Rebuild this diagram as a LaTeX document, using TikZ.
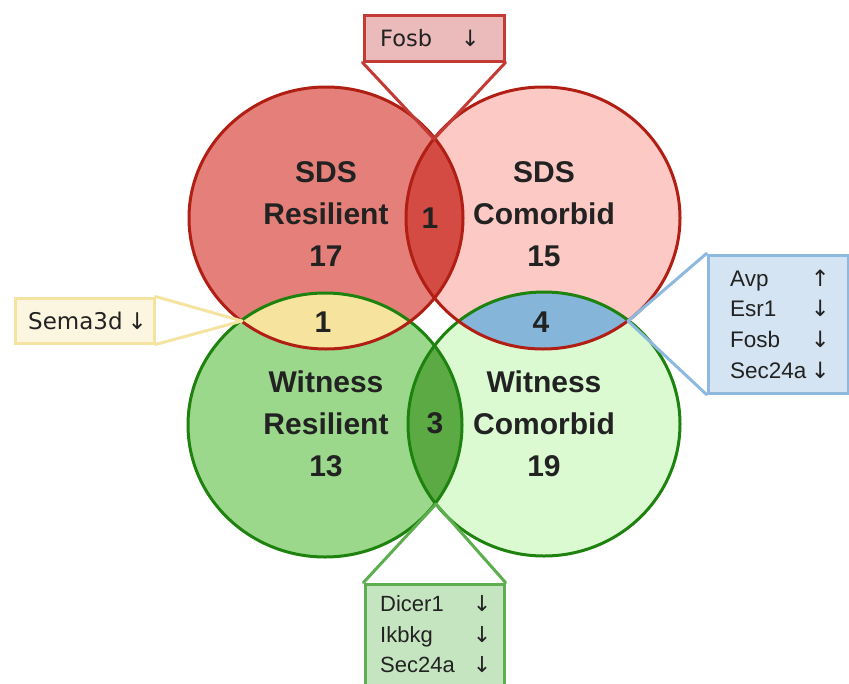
\documentclass[tikz,border=0pt]{standalone}
\usepackage{fontspec}
\setmainfont{Liberation Sans}
\newfontfamily\dejavu{DejaVu Sans}
\newcommand{\dn}{\makebox[0pt]{\dejavu ↓}}
\newcommand{\upa}{\makebox[0pt]{\dejavu ↑}}
\definecolor{txt}{HTML}{222222}
\definecolor{redline}{HTML}{B01E14}
\definecolor{redA}{HTML}{E48079}
\definecolor{redB}{HTML}{FDC9C4}
\definecolor{redAB}{HTML}{D44B44}
\definecolor{greenline}{HTML}{1E820E}
\definecolor{greenA}{HTML}{9BD88C}
\definecolor{greenB}{HTML}{DCFAD2}
\definecolor{greenAB}{HTML}{5BAA44}
\definecolor{yellowlens}{HTML}{F6E39D}
\definecolor{bluelens}{HTML}{86B5DA}
\definecolor{fosbfill}{HTML}{EBBBBB}
\definecolor{fosbline}{HTML}{C23B35}
\definecolor{bluefill}{HTML}{D4E4F2}
\definecolor{blueline}{HTML}{8CB9DD}
\definecolor{semafill}{HTML}{FCF5E0}
\definecolor{semaline}{HTML}{F4E3A1}
\definecolor{gboxfill}{HTML}{C5E4C0}
\definecolor{gboxline}{HTML}{5DAE4F}
\tikzset{
  setlabel/.style={align=center, text=txt, font=\bfseries\fontsize{30}{42}\selectfont, inner sep=0pt},
  lenslabel/.style={text=txt, font=\bfseries\fontsize{30}{34}\selectfont, inner sep=0pt},
  calloutbox/.style={draw, line width=3pt, rectangle, inner sep=0pt},
  callouttext/.style={text=txt, align=left, inner sep=0pt, anchor=west},
  calloutline/.style={line width=3pt, line join=round, line cap=round},
}
\newcommand{\redA}{(326,218) ellipse [x radius=137pt, y radius=131pt]}
\newcommand{\redB}{(543,218) ellipse [x radius=137pt, y radius=131pt]}
\newcommand{\grnA}{(325,425) ellipse [x radius=137pt, y radius=132pt]}
\newcommand{\grnB}{(544,424) ellipse [x radius=136pt, y radius=132pt]}
\begin{document}
\begin{tikzpicture}[x=1pt, y=-1pt]
\useasboundingbox (0,0) rectangle (849,683);
% circle fills
\fill[greenA] \grnA;
\fill[greenB] \grnB;
\fill[redA] \redA;
\fill[redB] \redB;
% lens fills
\begin{scope}\clip \redA; \fill[redAB] \redB; \end{scope}
\begin{scope}\clip \grnA; \fill[greenAB] \grnB; \end{scope}
\begin{scope}\clip \redA; \fill[yellowlens] \grnA; \end{scope}
\begin{scope}\clip \redB; \fill[bluelens] \grnB; \end{scope}
% borders
\draw[greenline, line width=3pt] \grnA;
\draw[greenline, line width=3pt] \grnB;
\draw[redline, line width=3pt] \redA;
\draw[redline, line width=3pt] \redB;
% set labels
\node[setlabel] (sdsres) at (326,214) {SDS\\Resilient\\17};
\node[setlabel] (sdscom) at (544,214) {SDS\\Comorbid\\15};
\node[setlabel] (witres) at (326,424) {Witness\\Resilient\\13};
\node[setlabel] (witcom) at (544,424) {Witness\\Comorbid\\19};
% lens labels
\node[lenslabel] (nrr) at (430,218) {1};
\node[lenslabel] (nrg) at (323,322) {1};
\node[lenslabel] (nbl) at (541,322) {4};
\node[lenslabel] (ngg) at (435,423) {3};
% intersection points
\coordinate (ptTop) at (434,139);
\coordinate (ptLeft) at (242,321);
\coordinate (ptRight) at (628,321);
\coordinate (ptBottom) at (436,504);
% Fosb callout
\node[calloutbox, draw=fosbline, fill=fosbfill, minimum width=140pt, minimum height=46pt] (fosbbox) at (434,38) {};
\draw[calloutline, fosbline] (fosbbox.south west) -- (ptTop) -- (fosbbox.south east);
\node[callouttext, font=\dejavu\fontsize{22.5}{28}\selectfont] (fosbtxt) at (380,38) {\makebox[90pt][l]{Fosb}\dn};
% Sema3d callout
\node[calloutbox, draw=semaline, fill=semafill, minimum width=139pt, minimum height=45pt] (semabox) at (84.5,320.5) {};
\draw[calloutline, semaline] (semabox.north east) -- (ptLeft) -- (semabox.south east);
\node[callouttext, font=\dejavu\fontsize{23}{28}\selectfont] (sematxt) at (28,321) {\makebox[109pt][l]{Sema3d}\dn};
% blue callout
\node[calloutbox, draw=blueline, fill=bluefill, minimum width=140pt, minimum height=138pt] (bluebox) at (778,324) {};
\draw[calloutline, blueline] (bluebox.north west) -- (ptRight) -- (bluebox.south west);
\node[callouttext, font=\fontsize{22.5}{30.7}\selectfont] (bluetxt) at (730,324) {\makebox[90pt][l]{Avp}\upa\\\makebox[90pt][l]{Esr1}\dn\\\makebox[90pt][l]{Fosb}\dn\\\makebox[90pt][l]{Sec24a}\dn};
% green callout
\node[calloutbox, draw=gboxline, fill=gboxfill, minimum width=139pt, minimum height=130pt] (gbox) at (434.5,649) {};
\draw[calloutline, gboxline] (gbox.north west) -- (ptBottom) -- (gbox.north east);
\node[callouttext, font=\fontsize{22}{30.5}\selectfont] (gtxt) at (380,634.5) {\makebox[102pt][l]{Dicer1}\dn\\\makebox[102pt][l]{Ikbkg}\dn\\\makebox[102pt][l]{Sec24a}\dn};
\end{tikzpicture}
\end{document}
